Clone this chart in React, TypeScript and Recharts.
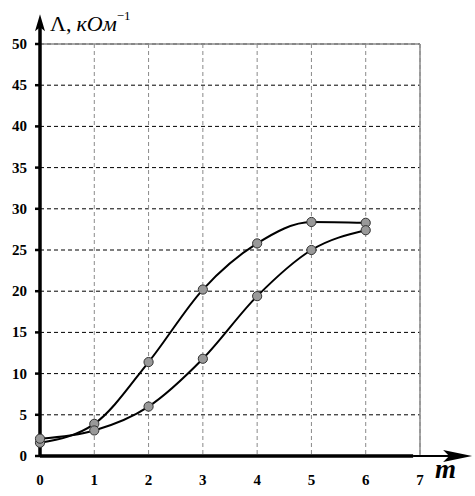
import React from 'react';
import { LineChart, Line, XAxis, YAxis, CartesianGrid, ReferenceLine } from 'recharts';

const mValues = [0, 1, 2, 3, 4, 5, 6];
const upperSeries = [1.6, 3.9, 11.4, 20.2, 25.8, 28.4, 28.3];
const lowerSeries = [2.1, 3.1, 6.0, 11.8, 19.4, 25.0, 27.4];
const xTicks = [0, 1, 2, 3, 4, 5, 6, 7];
const yTicks = [0, 5, 10, 15, 20, 25, 30, 35, 40, 45, 50];

const data = mValues.map((m, i) => ({ m, upper: upperSeries[i], lower: lowerSeries[i] }));

const serif = 'Liberation Serif';

const YArrow = (props: any) => {
  const { x1, y1, x2, y2 } = props;
  return (
    <g>
      <line x1={x1} y1={y1} x2={x2} y2={y2 + 12} stroke="#000" strokeWidth={3.5} />
      <path d={`M${x2},${y2} L${x2 + 5},${y2 + 17} L${x2},${y2 + 13} L${x2 - 5},${y2 + 17} Z`} fill="#000" />
      <text x={x2 + 10} y={y2 + 17} style={{ fontFamily: serif, fontSize: 22 }} fill="#000">
        <tspan>Λ,</tspan>
        <tspan style={{ fontStyle: 'italic' }} dx={5}>кОм</tspan>
        <tspan style={{ fontSize: 13 }} dy={-11}>−1</tspan>
      </text>
    </g>
  );
};

const XArrow = (props: any) => {
  const { x1, y1, x2, y2 } = props;
  const thickEnd = x2 - 59;
  return (
    <g>
      <line x1={x1} y1={y1} x2={thickEnd} y2={y2} stroke="#000" strokeWidth={3.5} />
      <line x1={thickEnd} y1={y1} x2={x2 - 14} y2={y2} stroke="#000" strokeWidth={2} />
      <path d={`M${x2},${y2} L${x2 - 29},${y2 - 6} L${x2 - 23},${y2} L${x2 - 29},${y2 + 6} Z`} fill="#000" />
      <text x={x2 - 37} y={y2 + 22} style={{ fontFamily: serif, fontSize: 27, fontWeight: 'bold', fontStyle: 'italic' }} fill="#000">
        m
      </text>
    </g>
  );
};

const XTick = (props: any) => {
  const { x, y, payload } = props;
  return (
    <text x={x} y={y + 11} textAnchor="middle" fontFamily="Liberation Serif" fontSize={15} fontWeight="bold" fill="#000">
      {String(payload.value)}
    </text>
  );
};

const YTick = (props: any) => {
  const { x, y, payload } = props;
  return (
    <text x={x} y={y + 5} textAnchor="end" fontFamily="Liberation Serif" fontSize={15} fontWeight="bold" fill="#000">
      {String(payload.value)}
    </text>
  );
};

const dotStyle = { r: 4.6, fill: '#999999', stroke: '#333333', strokeWidth: 1, clipDot: false };

export default function App() {
  return (
    <div style={{ position: 'absolute', left: 0, top: 0, width: 475, height: 496, background: '#fff' }}>
      <LineChart width={475} height={496} data={data} margin={{ top: 44, right: 55, bottom: 0, left: 0 }}>
        <CartesianGrid vertical={false} stroke="#000" strokeDasharray="4 3" />
        <CartesianGrid horizontal={false} stroke="#8a8a8a" strokeDasharray="4 3" />
        <XAxis
          dataKey="m"
          type="number"
          domain={[0, 7]}
          ticks={xTicks}
          height={40}
          axisLine={false}
          tickLine={false}
          tickSize={8}
          tickMargin={10}
          tick={<XTick />}
        />
        <YAxis
          type="number"
          domain={[0, 50]}
          ticks={yTicks}
          width={40}
          axisLine={false}
          tickLine={{ stroke: '#000', strokeWidth: 2.5 }}
          tickSize={5}
          tickMargin={8}
          tick={<YTick />}
        />
        <ReferenceLine y={50} stroke="#8a8a8a" strokeWidth={1.5} />
        <ReferenceLine x={7} stroke="#8a8a8a" strokeWidth={1.5} />
        <ReferenceLine segment={[{ x: 0, y: 0 }, { x: 7.96, y: 0 }]} ifOverflow="visible" shape={XArrow} />
        <ReferenceLine segment={[{ x: 0, y: 0 }, { x: 0, y: 53.6 }]} ifOverflow="visible" shape={YArrow} />
        <Line type="monotone" dataKey="upper" stroke="#000" strokeWidth={2} dot={dotStyle} isAnimationActive={false} />
        <Line type="monotone" dataKey="lower" stroke="#000" strokeWidth={2} dot={dotStyle} isAnimationActive={false} />
      </LineChart>
    </div>
  );
}
